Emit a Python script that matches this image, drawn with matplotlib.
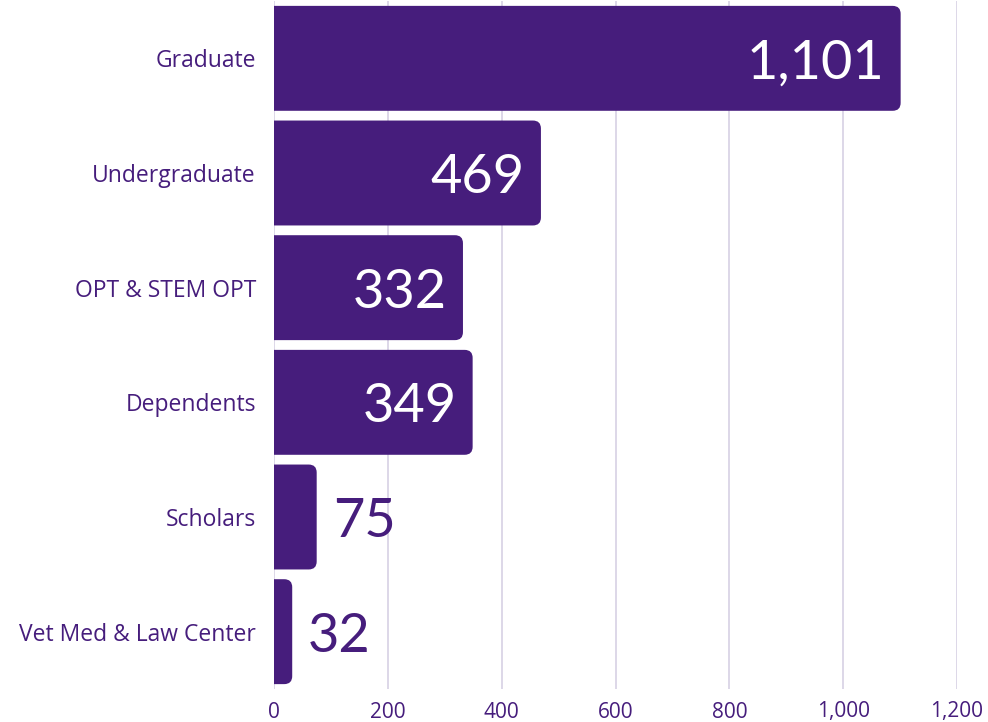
import matplotlib.pyplot as plt
from matplotlib.patches import FancyBboxPatch

categories = ["Graduate", "Undergraduate", "OPT & STEM OPT", "Dependents", "Scholars", "Vet Med & Law Center"]
counts = [1101, 469, 332, 349, 75, 32]
xticks = [0, 200, 400, 600, 800, 1000, 1200]

purple = "#461D7C"
grid_col = "#DAD4E6"

plt.rcParams['font.family'] = ['Open Sans', 'DejaVu Sans']

fig = plt.figure(figsize=(9.88, 7.22), dpi=100)
ax = fig.add_axes([274 / 988, 33 / 722, 683 / 988, 688 / 722])

y = list(range(len(categories)))
bars = ax.barh(y, counts, height=0.915, color=purple)
ax.set_xlim(0, 1200)
ax.set_ylim(len(categories) - 0.5, -0.5)

# swap plain rectangles for boxes rounded on the right end
px_x = 1200 / 683
px_y = len(categories) / 688
for b in bars:
    x0, y0, w, h = b.get_x(), b.get_y(), b.get_width(), b.get_height()
    b.set_visible(False)
    p = FancyBboxPatch((x0 - 30, y0), w + 30, h,
                       boxstyle="round,pad=0,rounding_size=%f" % (8 * px_x),
                       mutation_aspect=px_y / px_x,
                       fc=purple, ec="none", zorder=2)
    ax.add_patch(p)

for i, v in enumerate(counts):
    txt = f"{v:,}"
    if v > 200:
        ax.text(v - 16 * px_x, i, txt, ha="right", va="center_baseline",
                color="white", fontsize=39, family=['Lato', 'DejaVu Sans'], zorder=3)
    else:
        ax.text(v + 16 * px_x, i, txt, ha="left", va="center_baseline",
                color=purple, fontsize=39, family=['Lato', 'DejaVu Sans'], zorder=3)

ax.set_xticks(xticks)
ax.set_xticklabels([f"{t:,}" for t in xticks])
ax.set_yticks(y)
ax.set_yticklabels(categories)
ax.tick_params(axis="both", length=0, colors=purple, labelsize=15)
ax.tick_params(axis="y", pad=13, labelsize=16.5)
ax.tick_params(axis="x", pad=9)
ax.grid(axis="x", color=grid_col, linewidth=1.3, zorder=0)
ax.set_axisbelow(True)
for s in ax.spines.values():
    s.set_visible(False)

fig.savefig("out.png", dpi=100)
